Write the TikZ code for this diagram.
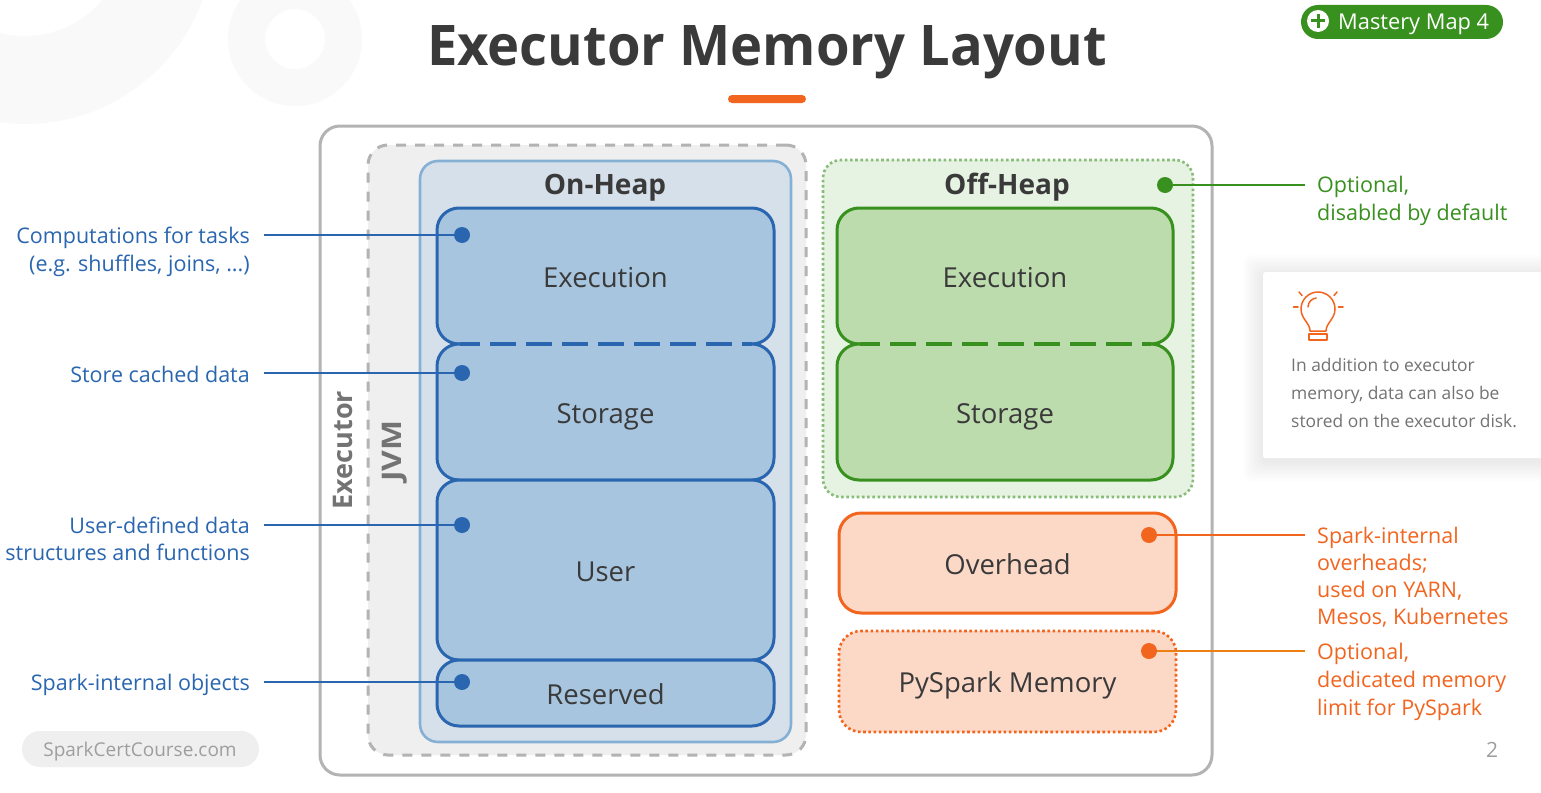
\documentclass[tikz,border=0pt]{standalone}
\usepackage{fontspec}
\setmainfont{Open Sans}
\newfontfamily\titlefont[FakeStretch=0.97]{Open Sans}
\usetikzlibrary{calc}
\definecolor{ink}{HTML}{3A3A3A}
\definecolor{blueS}{HTML}{2A66B0}
\definecolor{blueF}{HTML}{A7C5DE}
\definecolor{blueO}{HTML}{D6E0EA}
\definecolor{blueL}{HTML}{85B0D4}
\definecolor{greenS}{HTML}{38901F}
\definecolor{greenF}{HTML}{BDDCAE}
\definecolor{greenO}{HTML}{E6F2E2}
\definecolor{orangeS}{HTML}{F2651F}
\definecolor{orangeF}{HTML}{FCD9C7}
\definecolor{grayS}{HTML}{B3B3B3}
\definecolor{grayF}{HTML}{EFEFEF}
\definecolor{deco}{HTML}{F9F9F9}
\newcommand{\fs}[1]{\fontsize{#1}{#1}\selectfont}
\tikzset{
  x=1pt,y=-1pt,
  region/.style={rounded corners=#1,inner sep=0pt,outer sep=0pt},
  mem/.style={region=22pt,line width=3pt,text=ink,font=\fs{27.5},text height=24pt,text depth=2pt},
  bluebox/.style={mem,draw=blueS,fill=blueF},
  greenbox/.style={mem,draw=greenS,fill=greenF},
  orangebox/.style={mem,draw=orangeS,fill=orangeF},
  head/.style={text=ink,font=\fs{28}\bfseries,inner sep=0pt,anchor=base},
  rotlabel/.style={rotate=90,font=\fs{27}\bfseries,text=black!55,inner sep=0pt},
  side/.style={font=\fs{21.5},inner sep=0pt,align=left},
  sideL/.style={side,align=right,anchor=east,text=blueS},
  dot/.style={circle,inner sep=0pt,minimum size=16pt,fill=#1},
  lead/.style={line width=1.3pt},
  seam/.style={line width=3.3pt,dash pattern=on 26pt off 10pt,dash phase=6pt},
}
\begin{document}
\begin{tikzpicture}
\useasboundingbox (0,0) rectangle (1541,792);
\fill[white] (0,0) rectangle (1541,792);
% background decoration
\begin{scope}
\clip (0,0) rectangle (1541,792);
\fill[deco,even odd rule] (25,-65) circle[radius=189] (25,-65) circle[radius=101];
\fill[deco,even odd rule] (295,39) circle[radius=67] (295,39) circle[radius=30];
\end{scope}
% title
\node[text=ink,font=\fs{56}\titlefont\bfseries,inner sep=0pt,anchor=base] (title) at (767,66) {Executor Memory Layout};
\node[fill=orangeS,rounded corners=4pt,minimum width=78pt,minimum height=8pt,inner sep=0pt] (bar) at (767,99) {};
% badge
\node[fill=greenS,rounded corners=17pt,minimum width=202pt,minimum height=34pt,inner sep=0pt] (badge) at (1402,22) {};
\node[circle,fill=white,minimum size=22pt,inner sep=0pt] (plus) at (1318,21) {};
\draw[greenS,line width=3pt] (plus.center)+(-7,0) -- +(7,0) (plus.center)+(0,-7) -- +(0,7);
\node[white,font=\fs{21.8},inner sep=0pt,anchor=base west] (badgetext) at (1338,30) {Mastery Map 4};
% outer frame
\node[region=20pt,draw=grayS,line width=3pt,minimum width=892pt,minimum height=649pt] (frame) at (766,450.5) {};
% executor / JVM
\node[region=20pt,draw=grayS,fill=grayF,line width=3pt,dash pattern=on 10pt off 9pt,minimum width=438pt,minimum height=610pt] (executor) at (587,450) {};
\node[region=18pt,draw=blueL,fill=blueO,line width=2.6pt,minimum width=371pt,minimum height=581pt] (onheap) at (605.5,451.5) {};
\node[rotlabel] (executorlabel) at (343,450) {Executor};
\node[rotlabel] (jvmlabel) at (395,451) {\scalebox{1.18}[1]{JVM}};
\node[head] (onheaplabel) at (605,194) {On-Heap};
% on-heap boxes
\node[bluebox,minimum width=337pt,minimum height=136pt] (exec) at (605.5,276) {Execution};
\node[bluebox,minimum width=337pt,minimum height=136pt] (stor) at (605.5,412) {Storage};
\node[bluebox,minimum width=337pt,minimum height=180pt] (user) at (605.5,570) {User};
\node[bluebox,minimum width=337pt,minimum height=66pt] (res) at (605.5,693) {Reserved};
\coordinate (a1) at (460,344); \coordinate (a2) at (752,344);
\draw[blueF,line width=4.5pt] (a1) -- (a2);
\draw[blueS,seam] (a1) -- (a2);
% off-heap
\node[region=18pt,draw=greenS!60,fill=greenO,line width=2.6pt,dash pattern=on 2.6pt off 2.6pt,minimum width=370pt,minimum height=337pt] (offheap) at (1008,328.5) {};
\node[head] (offheaplabel) at (1007,194) {Off-Heap};
\node[greenbox,minimum width=336pt,minimum height=136pt] (gexec) at (1005,276) {Execution};
\node[greenbox,minimum width=336pt,minimum height=136pt] (gstor) at (1005,412) {Storage};
\coordinate (b1) at (860,344); \coordinate (b2) at (1151,344);
\draw[greenF,line width=4.5pt] (b1) -- (b2);
\draw[greenS,seam] (b1) -- (b2);
% orange
\node[orangebox,minimum width=337pt,minimum height=100pt] (over) at (1007.5,563) {Overhead};
\node[orangebox,line width=2.6pt,dash pattern=on 2.6pt off 2.6pt,minimum width=337pt,minimum height=101pt] (pys) at (1007.5,681.5) {PySpark Memory};
% left annotations
\node[sideL] (l1) at (250,252) {Computations for tasks\\[5.6pt](e.g. shuffles, joins, ...)};
\node[sideL] (l2) at (250,374) {Store cached data};
\node[sideL] (l3) at (250,539) {User-defined data\\[5.6pt]structures and functions};
\node[sideL] (l4) at (250,685) {Spark-internal objects};
\coordinate (c1) at (264,235); \coordinate (c2) at (264,373); \coordinate (c3) at (264,525); \coordinate (c4) at (264,682);
\node[dot=blueS] (d1) at (462,235) {};
\node[dot=blueS] (d2) at (462,373) {};
\node[dot=blueS] (d3) at (462,525) {};
\node[dot=blueS] (d4) at (462,682) {};
\draw[lead,blueS] (c1) -- (d1); \draw[lead,blueS] (c2) -- (d2);
\draw[lead,blueS] (c3) -- (d3); \draw[lead,blueS] (c4) -- (d4);
% right annotations
\node[dot=greenS] (d5) at (1165,185) {};
\node[dot=orangeS] (d6) at (1149,535) {};
\node[dot=orangeS] (d7) at (1149,651) {};
\coordinate (c5) at (1305,185); \coordinate (c6) at (1305,535); \coordinate (c7) at (1305,651);
\draw[lead,greenS] (d5) -- (c5);
\draw[lead,orangeS] (d6) -- (c6);
\draw[lead,orange!70!brown] (d7) -- (c7);
\node[side,anchor=west,text=greenS] (r1) at (1317,201) {Optional,\\[5.6pt]disabled by default};
\node[side,anchor=west,text=orangeS] (r2) at (1317,577) {Spark-internal\\[5.6pt]overheads;\\[5.6pt]used on YARN,\\[5.6pt]Mesos, Kubernetes};
\node[side,anchor=west,text=orangeS] (r3) at (1317,682) {Optional,\\[5.6pt]dedicated memory\\[5.6pt]limit for PySpark};
% callout
\foreach \s in {20,18,...,2}{
  \fill[black,opacity=0.007,rounded corners=8pt] (1263-\s,272-\s+3) rectangle (1570,458+\s+3);
}
\node[fill=white,rounded corners=2pt,minimum width=290pt,minimum height=186pt,inner sep=0pt,anchor=north west] (card) at (1263,272) {};
\begin{scope}[orangeS,line width=1.5pt,line cap=round,line join=round]
\draw (1310,331) .. controls (1310,323) and (1301,319) .. (1301,309)
  arc[start angle=180,end angle=360,radius=17] .. controls (1335,319) and (1326,323) .. (1326,331) -- cycle;
\draw (1309,334) rectangle (1327,340);
\draw (1308,307) arc[start angle=180,end angle=265,radius=9];
\draw (1293.5,307) -- (1298,307);
\draw (1338.5,307) -- (1343,307);
\draw (1299,292) -- (1302,295.5);
\draw (1337,292) -- (1334,295.5);
\end{scope}
\node[font=\fs{17.4},text=black!55,align=left,inner sep=0pt,anchor=west] (cardtext) at (1291,393) {In addition to executor\\[10.4pt]memory, data can also be\\[10.4pt]stored on the executor disk.};
% footer
\node[fill=grayF,rounded corners=18pt,minimum width=237pt,minimum height=36pt,inner sep=0pt] (pill) at (140.5,749) {};
\node[font=\fs{19},text=black!38,inner sep=0pt] (pilltext) at (140,752) {SparkCertCourse.com};
\node[font=\fs{21},text=black!38,inner sep=0pt] (page) at (1492,750) {2};
\end{tikzpicture}
\end{document}
